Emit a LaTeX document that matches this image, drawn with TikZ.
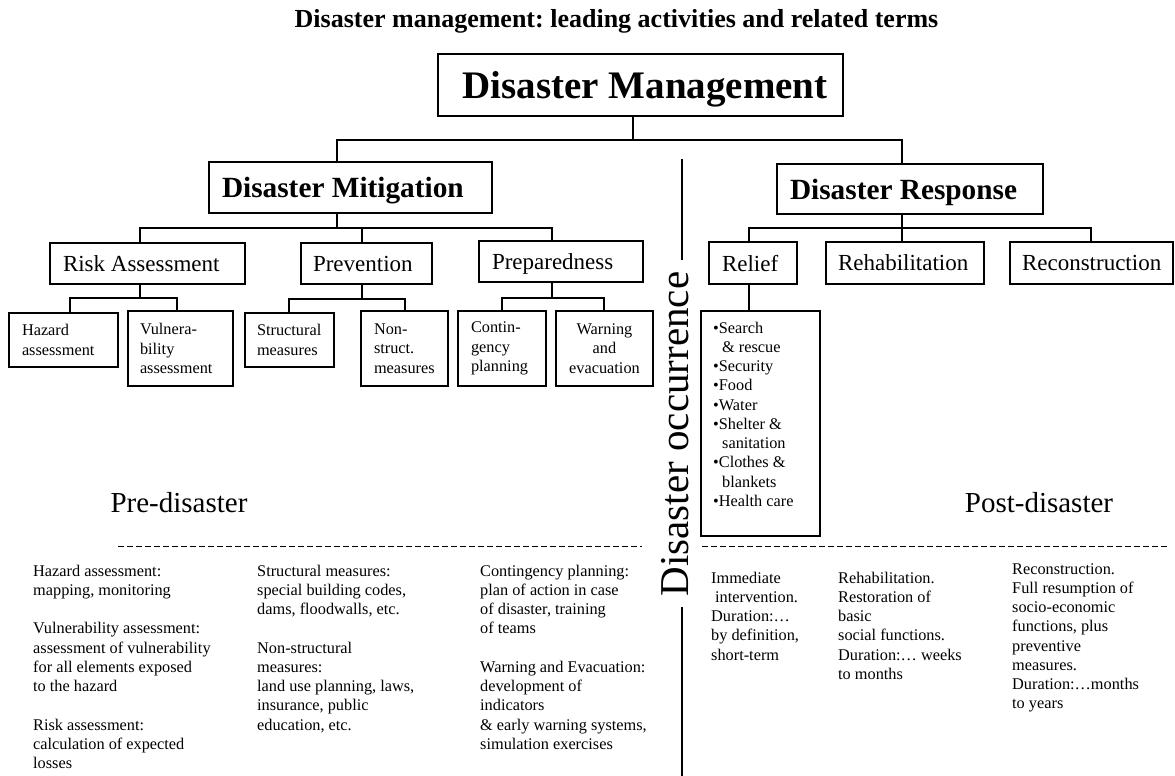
\documentclass[tikz,border=0pt]{standalone}
\usepackage{fontspec}
\setmainfont{Liberation Serif}
\begin{document}
\frenchspacing
\begin{tikzpicture}[x=1pt,y=-1pt,
  box/.style={draw=black, line width=1.2pt, inner ysep=0pt, align=flush left},
  hdA/.style={font=\bfseries\fontsize{29.3}{34}\selectfont, text depth=0pt},
  hdB/.style={font=\fontsize{23}{27}\selectfont, minimum height=41, text depth=0pt},
  small/.style={font=\fontsize{16.3}{19.5}\selectfont},
  note/.style={anchor=north west, inner sep=0pt, align=flush left, font=\fontsize{16.3}{19.25}\selectfont},
  link/.style={line width=1.2pt},
  sep/.style={line width=0.9pt, dash pattern=on 6pt off 3pt}]
\useasboundingbox (0,0) rectangle (1175,776);

% title
\node[font=\bfseries\fontsize{26}{30}\selectfont, anchor=base, inner sep=0pt] (title) at (616.5,28)
  {Disaster management: leading activities and related terms};

% top of the tree
\node[box, font=\bfseries\fontsize{39}{46}\selectfont, text depth=0pt, minimum width=405, minimum height=62, inner xsep=0pt, align=center] (dm) at (640.5,85) {\hspace*{9pt}Disaster Management};
\node[box, hdA, text width=257, inner xsep=13, minimum height=51] (mit) at (350.5,187.5) {Disaster Mitigation};
\node[box, hdA, text width=240, inner xsep=13, minimum height=50] (resp) at (910,189) {Disaster Response};

% activities
\node[box, hdB, text width=169, inner xsep=13] (risk) at (147.5,263.5) {Risk Assessment};
\node[box, hdB, text width=107, inner xsep=12] (prev) at (366.5,263.5) {Prevention};
\node[box, hdB, text width=138, inner xsep=13] (prep) at (561,261.5) {Preparedness};
\node[box, hdB, text width=62, inner xsep=13, minimum height=42] (relief) at (753,263) {Relief};
\node[box, hdB, text width=134, inner xsep=12, minimum height=42] (rehab) at (905,263) {Rehabilitation};
\node[box, hdB, text width=139, inner xsep=12, minimum height=42] (recon) at (1091.5,263) {Reconstruction};

% related terms
\node[box, small, text width=83, inner xsep=13, minimum height=54] (haz) at (63.5,340) {Hazard\\assessment};
\node[box, small, text width=81, inner xsep=12, minimum height=75] (vul) at (180.5,348.5) {Vulnera-\\bility\\assessment};
\node[box, small, text width=65, inner xsep=12, minimum height=54] (struc) at (289.5,340) {Structural\\measures};
\node[box, small, text width=61, inner xsep=13, minimum height=75] (nons) at (404.5,348.5) {Non-\\struct.\\measures};
\node[box, small, text width=62, inner xsep=13, minimum height=75] (cont) at (502,348.5) {Contin-\\gency\\planning};
\node[box, small, text width=81, inner xsep=8, minimum height=75, align=center] (warn) at (604.5,348.5) {Warning\\and\\evacuation};

% relief items
\node[box, minimum width=119, minimum height=225, inner sep=0pt] (list) at (760.5,423.5) {};
\node[note] (listtxt) at (713,319.5) {\strut\textbullet Search\\
\hspace{9pt}\& rescue\\
\textbullet Security\\
\textbullet Food\\
\textbullet Water\\
\textbullet Shelter \&\\
\hspace{9pt}sanitation\\
\textbullet Clothes \&\\
\hspace{9pt}blankets\\
\textbullet Health care};

% tree connectors
\coordinate (j0) at (633,140);
\coordinate (j0a) at (337,140);
\coordinate (j0b) at (902,140);
\draw[link] (dm.south -| j0) -- (j0);
\draw[link] (mit.north -| j0a) |- (j0b) -- (resp.north -| j0b);

\coordinate (j1) at (337,228);
\coordinate (j1a) at (140,228);
\coordinate (j1b) at (362,228);
\coordinate (j1c) at (552,228);
\draw[link] (mit.south -| j1) -- (j1);
\draw[link] (risk.north -| j1a) |- (j1c) -- (prep.north -| j1c);
\draw[link] (j1b) -- (prev.north -| j1b);

\coordinate (j2) at (902,228);
\coordinate (j2a) at (749,228);
\coordinate (j2c) at (1091,228);
\draw[link] (resp.south -| j2) -- (rehab.north -| j2);
\draw[link] (relief.north -| j2a) |- (j2c) -- (recon.north -| j2c);

\coordinate (k1) at (140,298);
\coordinate (k1a) at (70,298);
\coordinate (k1b) at (177,298);
\draw[link] (risk.south -| k1) -- (k1);
\draw[link] (haz.north -| k1a) |- (k1b) -- (vul.north -| k1b);

\coordinate (k2) at (362,299);
\coordinate (k2a) at (289,299);
\coordinate (k2b) at (405,299);
\draw[link] (prev.south -| k2) -- (k2);
\draw[link] (struc.north -| k2a) |- (k2b) -- (nons.north -| k2b);

\coordinate (k3) at (552,298);
\coordinate (k3a) at (502,298);
\coordinate (k3b) at (604,298);
\draw[link] (prep.south -| k3) -- (k3);
\draw[link] (cont.north -| k3a) |- (k3b) -- (warn.north -| k3b);

\coordinate (k4) at (749,290);
\draw[link] (relief.south -| k4) -- (list.north -| k4);

% disaster occurrence divider
\node[rotate=90, anchor=base, inner sep=0pt, font=\fontsize{41}{49}\selectfont] (occ) at (688,434) {Disaster occurrence};
\coordinate (occA) at (682,159);
\coordinate (occB) at (682,260);
\coordinate (occC) at (682,607);
\coordinate (occD) at (682,776);
\draw[link] (occA) -- (occB);
\draw[link] (occC) -- (occD);

% phases
\node[anchor=base, inner sep=0pt, font=\fontsize{29}{34}\selectfont] (pre) at (179,512) {Pre-disaster};
\node[anchor=base, inner sep=0pt, font=\fontsize{29}{34}\selectfont] (post) at (1039,512) {Post-disaster};
\coordinate (d1) at (118,546);
\coordinate (d2) at (642,546);
\coordinate (d3) at (702,546);
\coordinate (d4) at (1168,546);
\draw[sep] (d1) -- (d2);
\draw[sep] (d3) -- (d4);

% explanations
\node[note] (c1) at (33,562.5) {\strut Hazard assessment:\\
mapping, monitoring\\[19.25pt]
Vulnerability assessment:\\
assessment of vulnerability\\
for all elements exposed\\
to the hazard\\[19.25pt]
Risk assessment:\\
calculation of expected\\
losses};
\node[note] (c2) at (257,562.5) {\strut Structural measures:\\
special building codes,\\
dams, floodwalls, etc.\\[19.25pt]
Non-structural\\
measures:\\
land use planning, laws,\\
insurance, public\\
education, etc.};
\node[note] (c3) at (480,562.5) {\strut Contingency planning:\\
plan of action in case\\
of disaster, training\\
of teams\\[19.25pt]
Warning and Evacuation:\\
development of\\
indicators\\
\& early warning systems,\\
simulation exercises};
\node[note] (c4) at (711,569.5) {\strut Immediate\\
\hspace{4pt}intervention.\\
Duration:…\\
by definition,\\
short-term};
\node[note] (c5) at (838,569.5) {\strut Rehabilitation.\\
Restoration of\\
basic\\
social functions.\\
Duration:… weeks\\
to months};
\node[note] (c6) at (1012,560.5) {\strut Reconstruction.\\
Full resumption of\\
socio-economic\\
functions, plus\\
preventive\\
measures.\\
Duration:…months\\
to years};
\end{tikzpicture}
\end{document}
